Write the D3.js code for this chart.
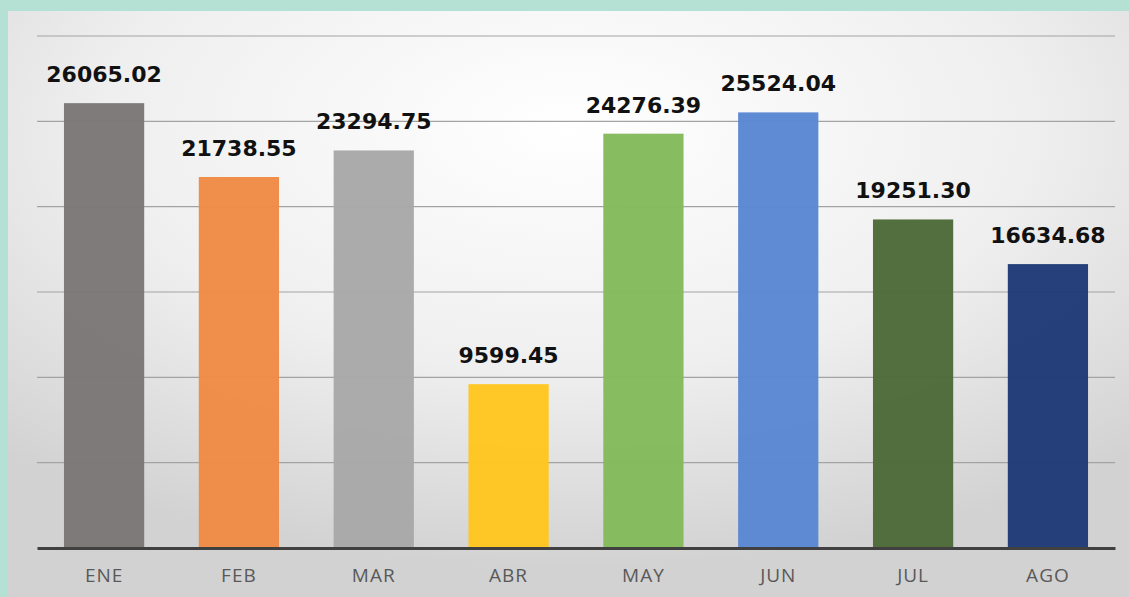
<!DOCTYPE html>
<html>
<head>
<meta charset="utf-8">
<script src="https://cdn.jsdelivr.net/npm/d3@7"></script>
<style>
  html, body { margin: 0; padding: 0; background: #b5e1d5; }
  svg { display: block; }
</style>
</head>
<body>
<div id="chart"></div>
<script>
const width = 1129;
const height = 597;
const margin = { top: 36, bottom: 49, left: 37, right: 14 };

// Data
const months = ["ENE", "FEB", "MAR", "ABR", "MAY", "JUN", "JUL", "AGO"];
const values = [26065.02, 21738.55, 23294.75, 9599.45, 24276.39, 25524.04, 19251.30, 16634.68];
const barColors = ["#7b7777", "#f08a46", "#a8a8a8", "#ffc620", "#84ba5c", "#5a87d4", "#4d6a39", "#1e3a76"];
const yTicks = [0, 5000, 10000, 15000, 20000, 25000, 30000];

const svg = d3.select("#chart")
  .append("svg")
  .attr("width", width)
  .attr("height", height);

// panel background
const grad = svg.append("defs")
  .append("radialGradient")
  .attr("id", "panelGrad")
  .attr("cx", "50%").attr("cy", "20%").attr("r", "75%");
grad.append("stop").attr("offset", "0%").attr("stop-color", "#ffffff");
grad.append("stop").attr("offset", "55%").attr("stop-color", "#efefef");
grad.append("stop").attr("offset", "100%").attr("stop-color", "#d2d2d2");

svg.append("rect")
  .attr("x", 8)
  .attr("y", 11)
  .attr("width", width - 8)
  .attr("height", height - 11)
  .attr("fill", "url(#panelGrad)");

// scales
const x = d3.scaleBand()
  .domain(months)
  .range([margin.left, width - margin.right])
  .paddingInner(0.405)
  .paddingOuter(0.2);

const y = d3.scaleLinear()
  .domain([0, 30000])
  .range([height - margin.bottom, margin.top]);

// grid lines
svg.selectAll(".grid")
  .data(yTicks.filter(d => d > 0))
  .enter()
  .append("line")
  .attr("class", "grid")
  .attr("x1", margin.left)
  .attr("x2", width - margin.right)
  .attr("y1", d => y(d))
  .attr("y2", d => y(d))
  .style("stroke", "#a3a3a3")
  .style("stroke-width", 1.1);

// bars
svg.selectAll("rect.bar")
  .data(values)
  .enter()
  .append("rect")
  .attr("class", "bar")
  .attr("x", (d, i) => x(months[i]))
  .attr("y", d => y(d))
  .attr("width", x.bandwidth())
  .attr("height", d => y(0) - y(d))
  .style("fill", (d, i) => barColors[i])
  .style("opacity", 0.97);

// value labels
svg.selectAll("text.value")
  .data(values)
  .enter()
  .append("text")
  .attr("class", "value")
  .attr("x", (d, i) => x(months[i]) + x.bandwidth() / 2)
  .attr("y", d => y(d) - 21)
  .attr("text-anchor", "middle")
  .style("font-family", "'DejaVu Sans', sans-serif")
  .style("font-weight", "bold")
  .style("font-size", "22px")
  .style("fill", "#111")
  .text(d => d3.format(".2f")(d));

// x axis
const xAxis = svg.append("g")
  .attr("transform", `translate(0,${y(0)})`)
  .call(d3.axisBottom(x).tickSize(0).tickPadding(21));

xAxis.select(".domain")
  .attr("stroke", "#404040")
  .attr("stroke-width", 3);

xAxis.selectAll("text")
  .style("font-family", "'Open Sans', sans-serif")
  .style("font-size", "19px")
  .style("letter-spacing", "1px")
  .style("fill", "#595959");
</script>
</body>
</html>
